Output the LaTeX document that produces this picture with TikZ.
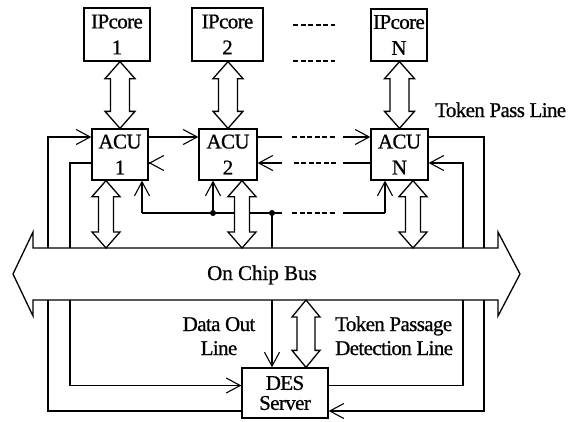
\documentclass[tikz,border=0pt]{standalone}
\usepackage{fontspec}
\setmainfont{Liberation Serif}[LetterSpace=-3.0, FakeBold=0.8]
\newfontfamily\busfont{Liberation Serif}[FakeBold=0.8]
\usetikzlibrary{arrows.meta,calc}
\pgfdeclarelayer{background}
\pgfsetlayers{background,main}

% vertical hollow double arrow: head half width, shaft half width, head length, top point, bottom point
\newcommand\fatarrow[5]{%
  \filldraw[fat] let \p1=#4, \p2=#5 in
    (\x1,\y1) -- (\x1+#1pt,\y1-#3pt) -- (\x1+#2pt,\y1-#3pt) -- (\x1+#2pt,\y2+#3pt)
    -- (\x1+#1pt,\y2+#3pt) -- (\x1,\y2) -- (\x1-#1pt,\y2+#3pt) -- (\x1-#2pt,\y2+#3pt)
    -- (\x1-#2pt,\y1-#3pt) -- (\x1-#1pt,\y1-#3pt) -- cycle;}

\tikzset{
  box/.style={draw, line width=1.3pt, fill=white, align=center, inner sep=0pt,
    font=\fontsize{21}{26}\selectfont},
  wire/.style={line width=1.1pt},
  feed/.style={wire, -{Straight Barb[length=14pt,width=15pt]}},
  gapline/.style={wire, dash pattern=on 5pt off 2.5pt},
  fat/.style={draw, fill=white, line width=1.3pt, line join=miter},
  junction/.style={circle, fill=black, inner sep=0pt, minimum size=6pt},
  label/.style={font=\fontsize{21}{24}\selectfont, inner sep=0pt},
}

\begin{document}
\begin{tikzpicture}[x=1pt, y=-1pt]
\useasboundingbox (0,0) rectangle (573,421);

% rows and columns used by the wiring
\coordinate (tA) at (0,137);
\coordinate (tB) at (0,163);
\coordinate (tC) at (0,213);
\coordinate (dA) at (0,385.5);
\coordinate (dB) at (0,411);
\coordinate (busT) at (0,248);
\coordinate (busB) at (0,300);
\coordinate (xL1) at (48,0);
\coordinate (xL2) at (70,0);
\coordinate (xR1) at (484,0);
\coordinate (xR2) at (463,0);
\coordinate (g1) at (282,0);
\coordinate (g2) at (292,0);
\coordinate (g3) at (336,0);
\coordinate (g4) at (343,0);
\coordinate (b1) at (142,0);
\coordinate (b2) at (213,0);
\coordinate (b3) at (272,0);
\coordinate (bn) at (385,0);
\coordinate (f1) at (106,0);
\coordinate (f2) at (242,0);
\coordinate (fn) at (413,0);
\coordinate (fd) at (306,0);

% blocks
\node[box, minimum width=66pt, minimum height=53pt] (ip1) at (117,34.5) {IPcore\\1};
\node[box, minimum width=71pt, minimum height=53pt] (ip2) at (227.5,34.5) {IPcore\\2};
\node[box, minimum width=56pt, minimum height=52pt] (ipn) at (399,35) {IPcore\\N};
\node[box, minimum width=56pt, minimum height=51pt] (acu1) at (120,154.5) {ACU\\1};
\node[box, minimum width=58pt, minimum height=51pt] (acu2) at (228,154.5) {ACU\\2};
\node[box, minimum width=57pt, minimum height=51pt] (acun) at (399.5,154.5) {ACU\\N};
\node[box, minimum width=86pt, minimum height=50pt, font=\fontsize{21}{20}\selectfont] (des) at (285,393) {DES\\Server};

% continuation marks between core 2 and core N
\coordinate (d1) at (293,25);
\coordinate (d2) at (335,25);
\coordinate (d3) at (293,61);
\coordinate (d4) at (335,61);
\draw[gapline] (d1) -- (d2);
\draw[gapline] (d3) -- (d4);

\begin{pgfonlayer}{background}
% token ring, forward direction
\draw[feed] (des.west |- dB) -- (xL1 |- dB) -- (xL1 |- tA) -- (acu1.west |- tA);
\draw[feed] (acu1.east |- tA) -- (acu2.west |- tA);
\draw[wire] (acu2.east |- tA) -- (g1 |- tA);
\draw[gapline] (g2 |- tA) -- (g3 |- tA);
\draw[feed] (g4 |- tA) -- (acun.west |- tA);
\draw[feed] (acun.east |- tA) -- (xR1 |- tA) -- (xR1 |- dB) -- (des.east |- dB);
% token ring, reverse direction
\draw[feed] (des.east |- dA) -- (xR2 |- dA) -- (xR2 |- tB) -- (acun.east |- tB);
\draw[wire] (acun.west |- tB) -- (g4 |- tB);
\draw[gapline] (g3 |- tB) -- (g2 |- tB);
\draw[feed] (g1 |- tB) -- (acu2.east |- tB);
\draw[feed] ($(acu1.east |- tB)+(0.5,0)$) -- (acu1.east |- tB);
\draw[feed] (acu1.west |- tB) -- (xL2 |- tB) -- (xL2 |- dA) -- (des.west |- dA);
% data out line
\draw[feed] (b1 |- tC) -- (b1 |- acu1.south);
\draw[wire] (b1 |- tC) -- (g1 |- tC);
\draw[gapline] (g2 |- tC) -- (g3 |- tC);
\draw[wire] (g4 |- tC) -- (bn |- tC);
\draw[feed] (bn |- tC) -- (bn |- acun.south);
\draw[feed] (b2 |- tC) -- (b2 |- acu2.south);
\draw[feed] (b3 |- tC) -- (b3 |- des.north);
\end{pgfonlayer}

\node[junction] (j1) at (b2 |- tC) {};
\node[junction] (j2) at (b3 |- tC) {};

% on chip bus
\filldraw[fat] (13,274) -- (33,232) -- (33,248) -- (498,248) -- (498,232)
  -- (520,274) -- (498,316) -- (498,300) -- (33,300) -- (33,316) -- cycle;
\node[label, anchor=base, font=\busfont\fontsize{21}{24}\selectfont] (bus) at (262,280) {On Chip Bus};

% hollow double arrows
\fatarrow{15}{9.5}{17}{(acu1.north |- ip1.south)}{(acu1.north)}
\fatarrow{15}{9.5}{17}{(acu2.north |- ip2.south)}{(acu2.north)}
\fatarrow{15}{9.5}{17}{(acun.north |- ipn.south)}{(acun.north)}
\fatarrow{14}{7.5}{16}{(f1 |- acu1.south)}{(f1 |- busT)}
\fatarrow{14}{7.5}{16}{(f2 |- acu2.south)}{(f2 |- busT)}
\fatarrow{14}{7.5}{16}{(fn |- acun.south)}{(fn |- busT)}
\fatarrow{14}{9}{17}{(fd |- busB)}{(fd |- des.north)}

% labels
\node[label, anchor=base west] (tpl) at (435,117) {Token Pass Line};
\node[label, align=center, anchor=base] (dol) at (219,355) {Data Out\\Line};
\node[label, align=left, anchor=base west] (tpd) at (335,355) {Token Passage\\Detection Line};
\end{tikzpicture}
\end{document}
